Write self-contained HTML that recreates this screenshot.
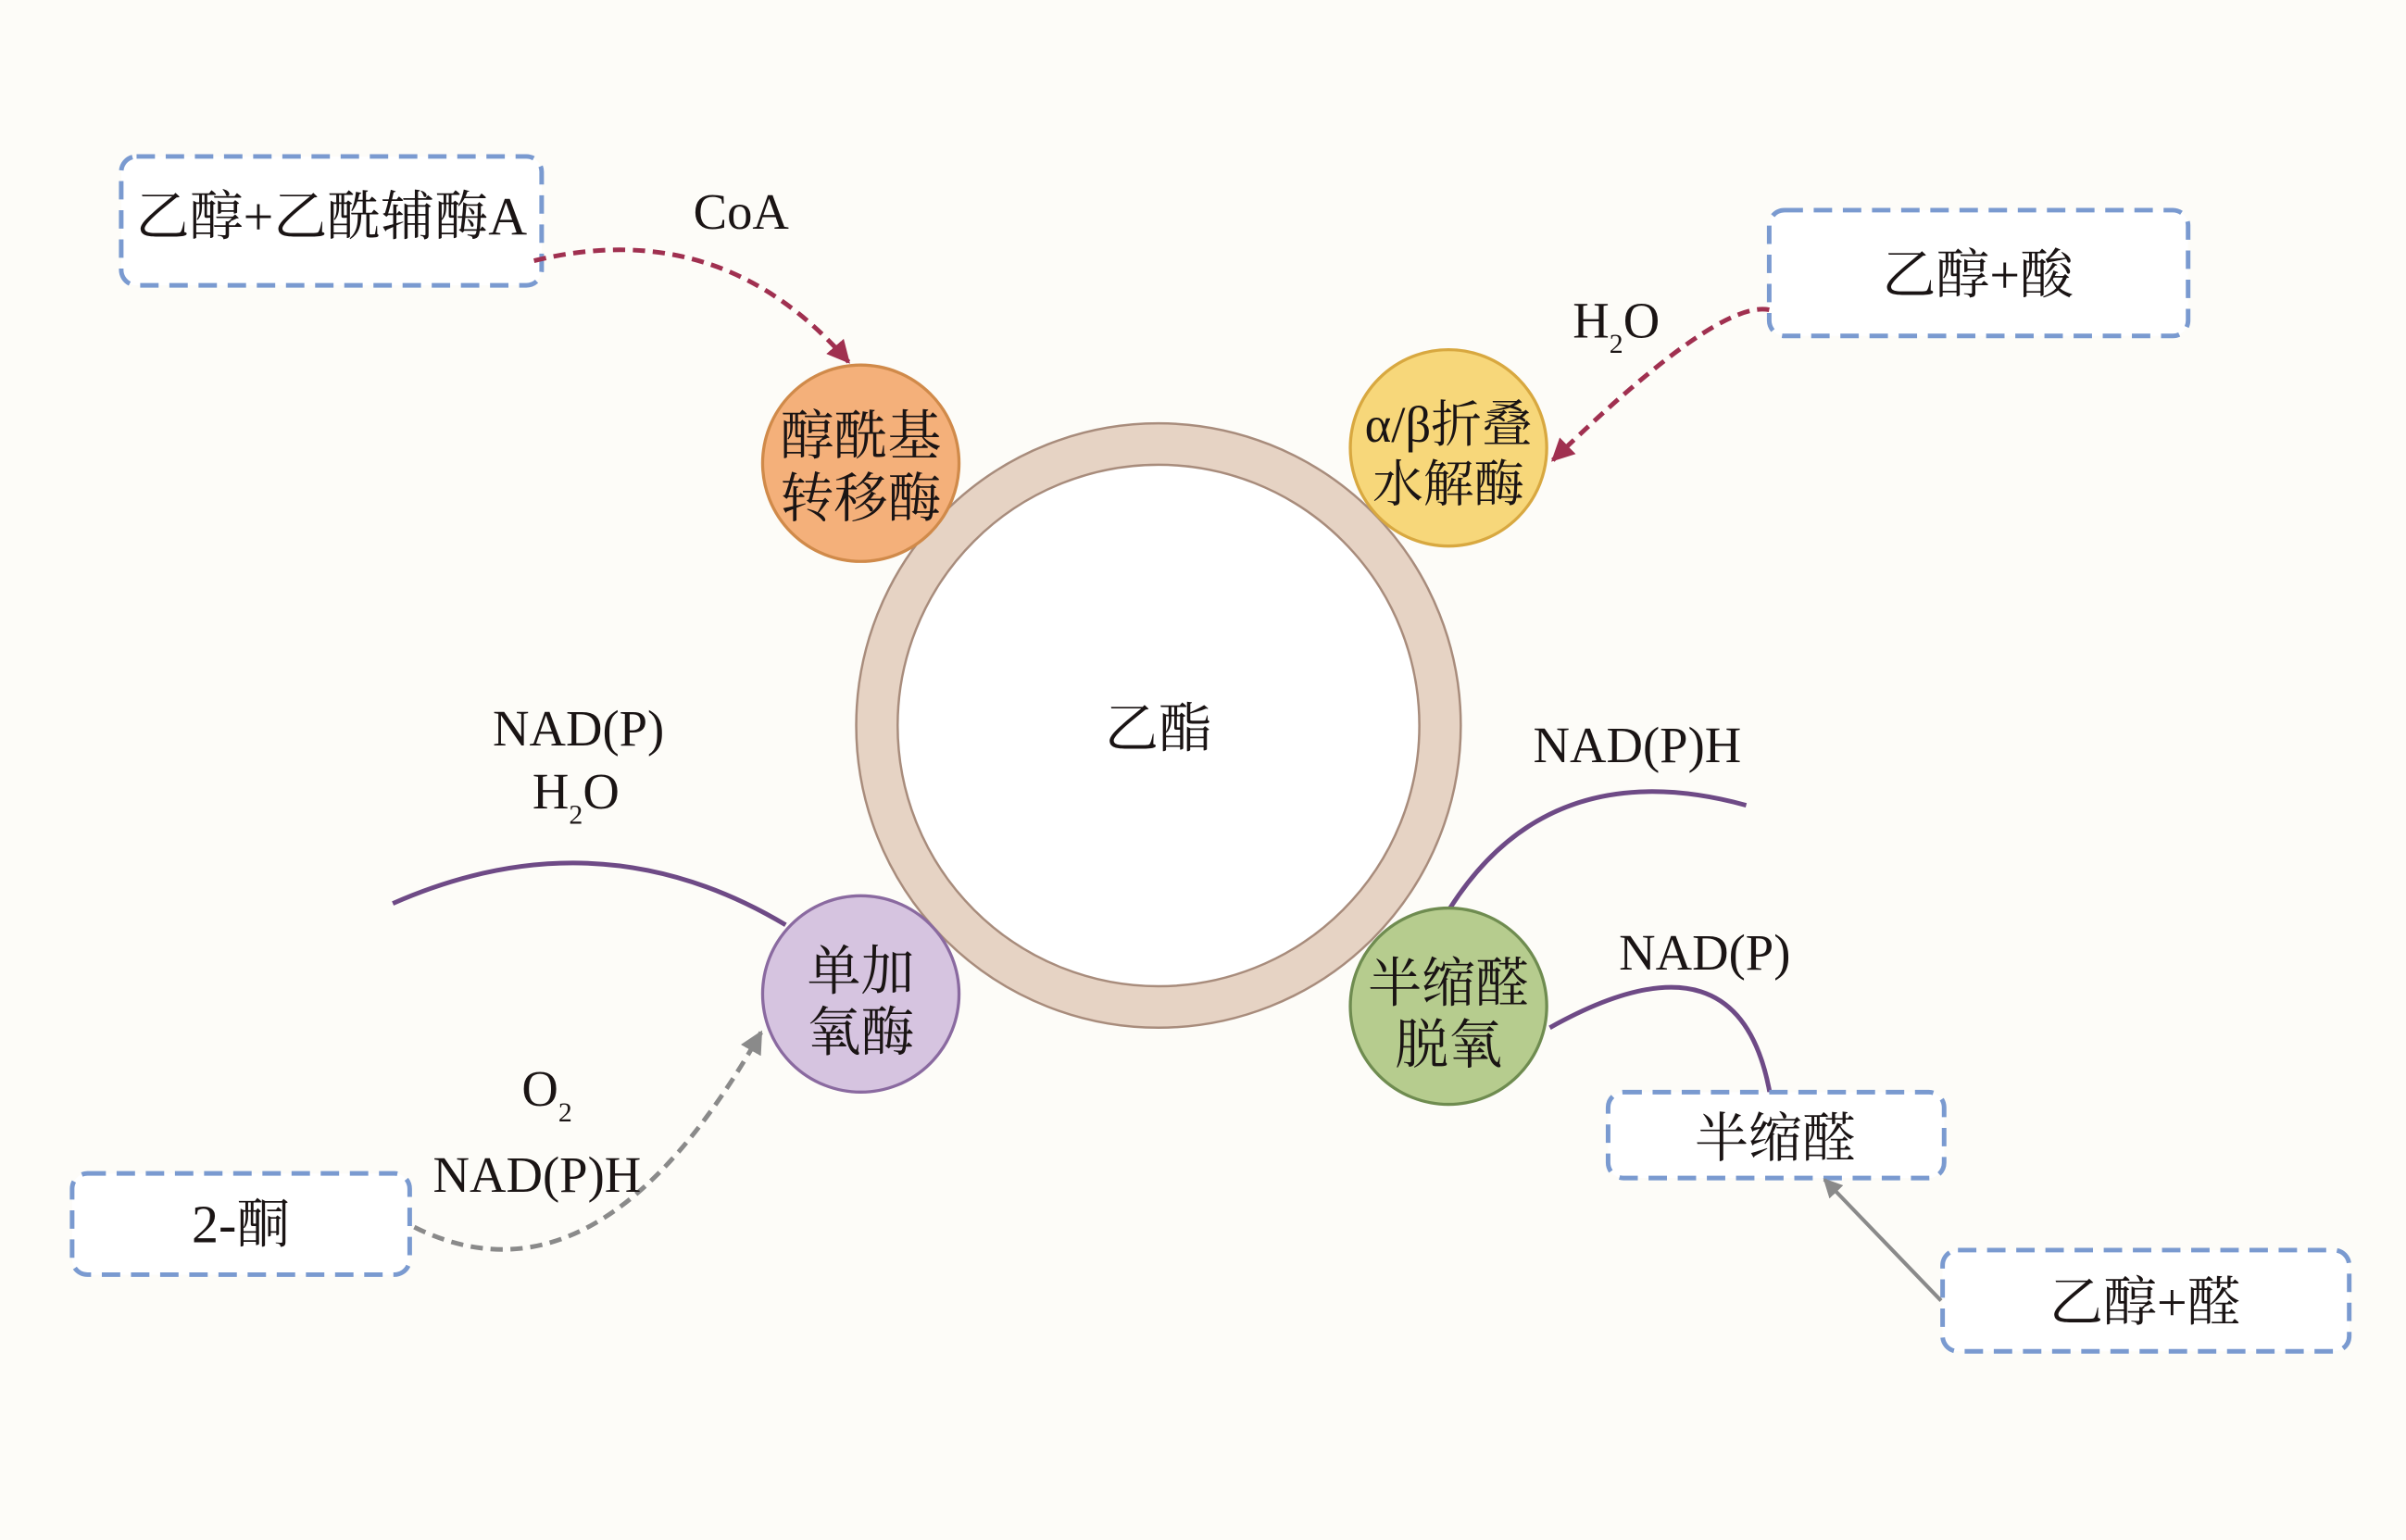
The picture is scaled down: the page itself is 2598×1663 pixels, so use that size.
<!DOCTYPE html>
<html><head><meta charset="utf-8">
<style>
html,body{margin:0;padding:0;background:#fdfcf8;}
svg{display:block;}
text{font-family:"Liberation Serif","Noto Serif CJK SC",serif;fill:#1a1414;}
</style></head>
<body>
<svg width="2598" height="1663" viewBox="0 0 1568 1004" preserveAspectRatio="none" xmlns="http://www.w3.org/2000/svg">
<defs>
<marker id="am" viewBox="0 0 10 10" refX="9" refY="5" markerWidth="5" markerHeight="5" orient="auto-start-reverse"><path d="M0,0 L10,5 L0,10 z" fill="#a03050"/></marker>
<marker id="ag" viewBox="0 0 10 10" refX="9" refY="5" markerWidth="5" markerHeight="5" orient="auto-start-reverse"><path d="M0,0 L10,5 L0,10 z" fill="#8a8a8a"/></marker>
</defs>
<rect width="1568" height="1004" fill="#fdfcf8"/>

<circle cx="755" cy="473" r="183.5" fill="none" stroke="#e6d3c4" stroke-width="27"/>
<circle cx="755" cy="473" r="197" fill="none" stroke="#a88c7c" stroke-width="1.5"/>
<circle cx="755" cy="473" r="170" fill="#ffffff" stroke="#a88c7c" stroke-width="1.5"/>
<text x="755" y="487" font-size="35" text-anchor="middle">乙酯</text>

<path d="M256,589 Q390,530 512,603" fill="none" stroke="#6e4a86" stroke-width="3"/>
<path d="M945,592 Q1010,490 1138,525" fill="none" stroke="#6e4a86" stroke-width="3"/>
<path d="M1010,670 Q1135,600 1154,716" fill="none" stroke="#6e4a86" stroke-width="3"/>

<circle cx="561" cy="302" r="64" fill="#f4b07a" stroke="#d08a4a" stroke-width="2"/>
<text x="561" y="296" font-size="35" text-anchor="middle">醇酰基</text>
<text x="561" y="337" font-size="35" text-anchor="middle">转移酶</text>

<circle cx="944" cy="292" r="64" fill="#f7d77a" stroke="#d8a840" stroke-width="2"/>
<text x="944" y="288" font-size="33" text-anchor="middle">α/β折叠</text>
<text x="944" y="327" font-size="33" text-anchor="middle">水解酶</text>

<circle cx="561" cy="648" r="64" fill="#d6c4e0" stroke="#8a6aa0" stroke-width="2"/>
<text x="561" y="645" font-size="35" text-anchor="middle">单加</text>
<text x="561" y="685" font-size="35" text-anchor="middle">氧酶</text>

<circle cx="944" cy="656" r="64" fill="#b6cc8e" stroke="#6f8c50" stroke-width="2"/>
<text x="944" y="653" font-size="35" text-anchor="middle">半缩醛</text>
<text x="944" y="693" font-size="35" text-anchor="middle">脱氧</text>

<g fill="#ffffff" stroke="#7a9ad0" stroke-width="3" stroke-dasharray="12,7">
<rect x="79" y="102" width="274" height="84" rx="10"/>
<rect x="1153" y="137" width="273" height="82" rx="10"/>
<rect x="47" y="765" width="220" height="66" rx="10"/>
<rect x="1048" y="712" width="219" height="56" rx="10"/>
<rect x="1266" y="815" width="265" height="66" rx="10"/>
</g>
<text x="216" y="153" font-size="35" text-anchor="middle">乙醇+乙酰辅酶A</text>
<text x="1289" y="191" font-size="35" text-anchor="middle">乙醇+酸</text>
<text x="157" y="810" font-size="35" text-anchor="middle">2-酮</text>
<text x="1157" y="754" font-size="35" text-anchor="middle">半缩醛</text>
<text x="1398" y="861" font-size="35" text-anchor="middle">乙醇+醛</text>

<path d="M348,170 Q470,140 553,236" fill="none" stroke="#a03050" stroke-width="3" stroke-dasharray="8,5" marker-end="url(#am)"/>
<path d="M1153,202 Q1120,195 1012,300" fill="none" stroke="#a03050" stroke-width="3" stroke-dasharray="8,5" marker-end="url(#am)"/>
<path d="M270,800 Q390,860 496,673" fill="none" stroke="#8a8a8a" stroke-width="3" stroke-dasharray="8,5" marker-end="url(#ag)"/>
<path d="M1265,848 L1189,769" fill="none" stroke="#8a8a8a" stroke-width="2.5" marker-end="url(#ag)"/>

<text x="483" y="149" font-size="33" text-anchor="middle">CoA</text>
<text x="1025" y="220" font-size="33">H<tspan font-size="18" dy="10">2</tspan><tspan dy="-10">O</tspan></text>
<text x="377" y="486" font-size="33" text-anchor="middle">NAD(P)</text>
<text x="347" y="527" font-size="33">H<tspan font-size="18" dy="10">2</tspan><tspan dy="-10">O</tspan></text>
<text x="1067" y="497" font-size="33" text-anchor="middle">NAD(P)H</text>
<text x="1111" y="632" font-size="33" text-anchor="middle">NAD(P)</text>
<text x="340" y="721" font-size="33">O<tspan font-size="18" dy="10">2</tspan></text>
<text x="350" y="777" font-size="33" text-anchor="middle">NAD(P)H</text>
</svg>
</body></html>
